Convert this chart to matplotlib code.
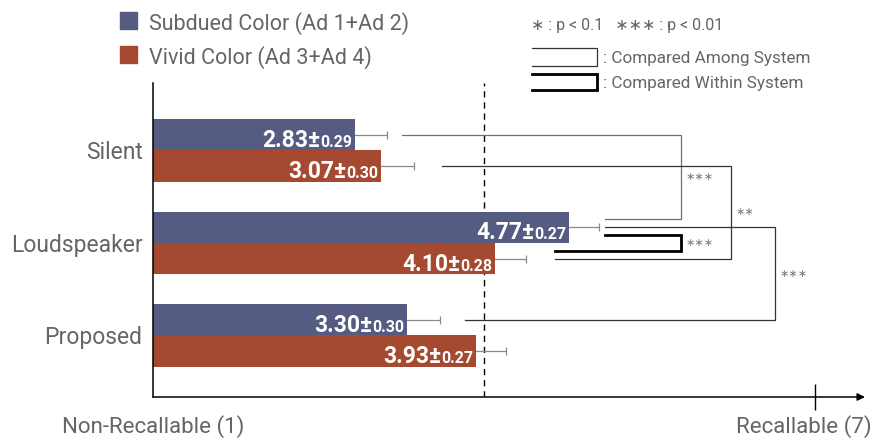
import numpy as np
import matplotlib
matplotlib.use("Agg")
import matplotlib.pyplot as plt
from matplotlib.patches import Rectangle
from matplotlib.lines import Line2D
from matplotlib import font_manager

# ---- data -------------------------------------------------------------
categories = ["Silent", "Loudspeaker", "Proposed"]
subdued_mean = [2.83, 4.77, 3.30]
subdued_sd = [0.29, 0.27, 0.30]
vivid_mean = [3.07, 4.10, 3.93]
vivid_sd = [0.30, 0.28, 0.27]
series_labels = ["Subdued Color (Ad 1+Ad 2)", "Vivid Color (Ad 3+Ad 4)"]
scale_labels = ["Non-Recallable (1)", "Recallable (7)"]
scale_min, scale_max, midpoint = 1, 7, 4

# ---- style ------------------------------------------------------------
installed = {f.name for f in font_manager.fontManager.ttflist}
base_font = next(f for f in ["Myriad Pro", "Liberation Sans Narrow", "Roboto", "DejaVu Sans"]
                 if f in installed)
FONT = [base_font, "DejaVu Sans"]
plt.rcParams["font.family"] = FONT

C_SUB = "#565b82"
C_VIV = "#a54a31"
C_TXT = "#646666"
C_ERR = "#8a8a8a"

W, H = 873, 444
fig = plt.figure(figsize=(W / 100, H / 100), dpi=100)
renderer = fig.canvas.get_renderer()


def fx(px):
    return px / W


def fy(py):
    return 1 - py / H


ax = fig.add_axes([fx(153), fy(397), fx(865) - fx(153), fy(83) - fy(397)])
ax.set_xlim(scale_min, 7.453)
ax.set_ylim(-0.666, 2.73)

pos = np.arange(len(categories))[::-1].astype(float)   # Silent on top
bar_h = 0.338
y_sub = pos + bar_h / 2
y_viv = pos - bar_h / 2

sub = np.array(subdued_mean)
viv = np.array(vivid_mean)

# error bars sit behind the bars so only the upper whisker shows
ax.errorbar(sub, y_sub, xerr=subdued_sd, fmt="none", ecolor=C_ERR,
            elinewidth=0.9, capsize=2.6, capthick=0.9, zorder=1)
ax.errorbar(viv, y_viv, xerr=vivid_sd, fmt="none", ecolor=C_ERR,
            elinewidth=0.9, capsize=2.6, capthick=0.9, zorder=1)

bars_sub = ax.barh(y_sub, sub - scale_min, left=scale_min, height=bar_h,
                   color=C_SUB, zorder=2)
bars_viv = ax.barh(y_viv, viv - scale_min, left=scale_min, height=bar_h,
                   color=C_VIV, zorder=2)

# mean ± sd labels inside the bar ends: large mean, small sd, shared baseline
px_per_unit = (ax.get_position().width * W) / (ax.get_xlim()[1] - ax.get_xlim()[0])
for means, sds, ys in [(sub, subdued_sd, y_sub), (viv, vivid_sd, y_viv)]:
    for m, s, y in zip(means, sds, ys):
        base = y - 0.13
        small = ax.text(m - 3 / px_per_unit, base, f"{s:.2f}", ha="right",
                        va="baseline", color="white", fontsize=11.5,
                        fontweight="bold", zorder=3)
        left_px = small.get_window_extent(renderer).x0
        left_x = ax.transData.inverted().transform((left_px, 0))[0]
        ax.text(left_x + 0.5 / px_per_unit, base, f"{m:.2f}±", ha="right",
                va="baseline", color="white", fontsize=16.5,
                fontweight="bold", zorder=3)

# neutral midpoint
ax.axvline(midpoint, color="black", lw=1.0, dashes=(4.5, 3.5), zorder=0)

# significance brackets: (y_top, y_bottom, x_top_start, x_bottom_start, x_right, label, color, lw)
brackets = [
    (y_sub[0], 1.259, 3.257, 5.097, 5.786, "∗∗∗", "#707070", 0.9),
    (y_viv[0], y_viv[1], 3.619, 4.644, 6.239, "∗∗", "#333333", 0.9),
    (y_sub[1], y_sub[2], 5.097, 3.828, 6.637, "∗∗∗", "#333333", 0.9),
    (1.084, 0.913, 5.097, 4.644, 5.786, "∗∗∗", "black", 2.0),
]
for yt, yb, xt, xb, xr, lab, col, lw in brackets:
    ax.plot([xt, xr, xr, xb], [yt, yt, yb, yb], color=col, lw=lw,
            solid_joinstyle="miter", zorder=1)
    ax.text(xr + 5 / px_per_unit, (yt + yb) / 2, lab, ha="left", va="center",
            color="#7a7a7a", fontsize=8, family=["DejaVu Sans"])

# axes frame: left spine, arrowed bottom axis with a tick at 7
for side in ["top", "right", "bottom"]:
    ax.spines[side].set_visible(False)
ax.spines["left"].set_linewidth(1.1)
ax.annotate("", xy=(1, 0), xytext=(0, 0), xycoords="axes fraction",
            arrowprops=dict(arrowstyle="-|>", color="black", lw=1.1,
                            mutation_scale=11, shrinkA=0, shrinkB=0))
ax.set_xticks([scale_max])
ax.tick_params(axis="x", direction="inout", length=19, width=1.0,
               labelbottom=False, colors="black")
ax.set_yticks(pos, categories)
ax.tick_params(axis="y", length=0, pad=7.5, labelsize=16.5, labelcolor=C_TXT)

fig.text(fx(62), fy(433), scale_labels[0], ha="left", va="baseline",
         fontsize=16, color=C_TXT)
fig.text(fx(872), fy(433), scale_labels[1], ha="right", va="baseline",
         fontsize=16, color=C_TXT)

# series legend
for (top, col, lab) in [(12, C_SUB, series_labels[0]), (46, C_VIV, series_labels[1])]:
    fig.patches.append(Rectangle((fx(120), fy(top + 17)), fx(17), 17 / H,
                                 transform=fig.transFigure, color=col))
    fig.text(fx(149), fy(top + 17.5), lab, ha="left", va="baseline",
             fontsize=15.5, color=C_TXT)

# significance legend
fig.text(fx(531), fy(30), "∗ : p < 0.1   ∗∗∗ : p < 0.01", ha="left",
         va="baseline", fontsize=11.5, color=C_TXT)
for top, bot, col, lw, lab in [(48, 66, "#333333", 0.9, "Compared Among System"),
                               (74, 90, "black", 2.0, "Compared Within System")]:
    fig.add_artist(Line2D([fx(532), fx(597), fx(597), fx(532)],
                          [fy(top), fy(top), fy(bot), fy(bot)],
                          transform=fig.transFigure, color=col, lw=lw,
                          solid_joinstyle="miter"))
    fig.text(fx(603), fy((top + bot) / 2), ": " + lab, ha="left",
             va="center_baseline", fontsize=12.3, color=C_TXT)

fig.savefig("out.png", dpi=100)
